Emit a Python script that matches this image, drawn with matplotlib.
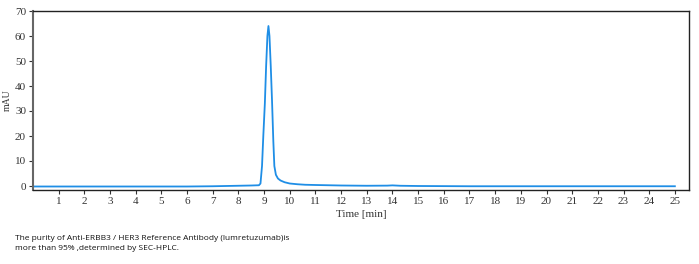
import matplotlib
matplotlib.use("Agg")
import matplotlib.pyplot as plt

time_min = [0.0, 2.0, 4.0, 6.0, 7.0, 7.5, 8.0, 8.5, 8.8, 8.86, 8.92, 8.97, 9.03, 9.08, 9.13, 9.17,
            9.21, 9.26, 9.31, 9.36, 9.40, 9.46, 9.54, 9.64, 9.8, 10.0, 10.3, 10.6, 11.0, 11.5,
            12.0, 13.0, 13.8, 14.0, 14.3, 15.0, 17.0, 20.0, 23.0, 25.0]
signal_mau = [-0.2, -0.2, -0.2, -0.2, -0.1, 0.0, 0.1, 0.2, 0.3, 1.0, 8.0, 20.0, 33.0, 48.0, 60.0, 64.0,
              60.0, 48.0, 34.0, 18.0, 8.0, 4.5, 3.0, 2.2, 1.5, 1.0, 0.7, 0.5, 0.4, 0.3,
              0.2, 0.1, 0.15, 0.25, 0.1, 0.0, -0.1, -0.1, -0.1, -0.1]
x_ticks = list(range(1, 26))
y_ticks = [0, 10, 20, 30, 40, 50, 60, 70]

fig = plt.figure(figsize=(6.99, 2.64), dpi=100)
ax = fig.add_axes([33/699, 1-190/264, (689-33)/699, (190-11)/264])
ax.plot(time_min, signal_mau, color="#1f8ee6", lw=1.3)
ax.set_xlim(0, 25.55)
ax.set_ylim(-1.6, 70)
ax.set_xticks(x_ticks)
ax.set_yticks(y_ticks)
serif = "Liberation Serif"
for lab in ax.get_xticklabels() + ax.get_yticklabels():
    lab.set_family(serif)
    lab.set_fontsize(8)
    lab.set_color("#333333")
ax.tick_params(axis="both", length=3, width=0.8, pad=2, colors="#333333")
for s in ax.spines.values():
    s.set_linewidth(1.0)
    s.set_color("#222222")
ax.spines["left"].set_color("#666666")
ax.spines["left"].set_linewidth(1.5)
ax.set_xlabel("Time [min]", family=serif, fontsize=8, color="#333333", labelpad=3)
ax.set_ylabel("mAU", family=serif, fontsize=7, color="#333333", labelpad=2)

fig.text(15/699, 1-238/264, "The purity of Anti-ERBB3 / HER3 Reference Antibody (lumretuzumab)is",
         family="Open Sans", fontsize=6.0, va="center", ha="left", color="#111111")
fig.text(15/699, 1-249/264, "more than 95% ,determined by SEC-HPLC.",
         family="Open Sans", fontsize=6.0, va="center", ha="left", color="#111111")
fig.savefig("out.png", dpi=100)
